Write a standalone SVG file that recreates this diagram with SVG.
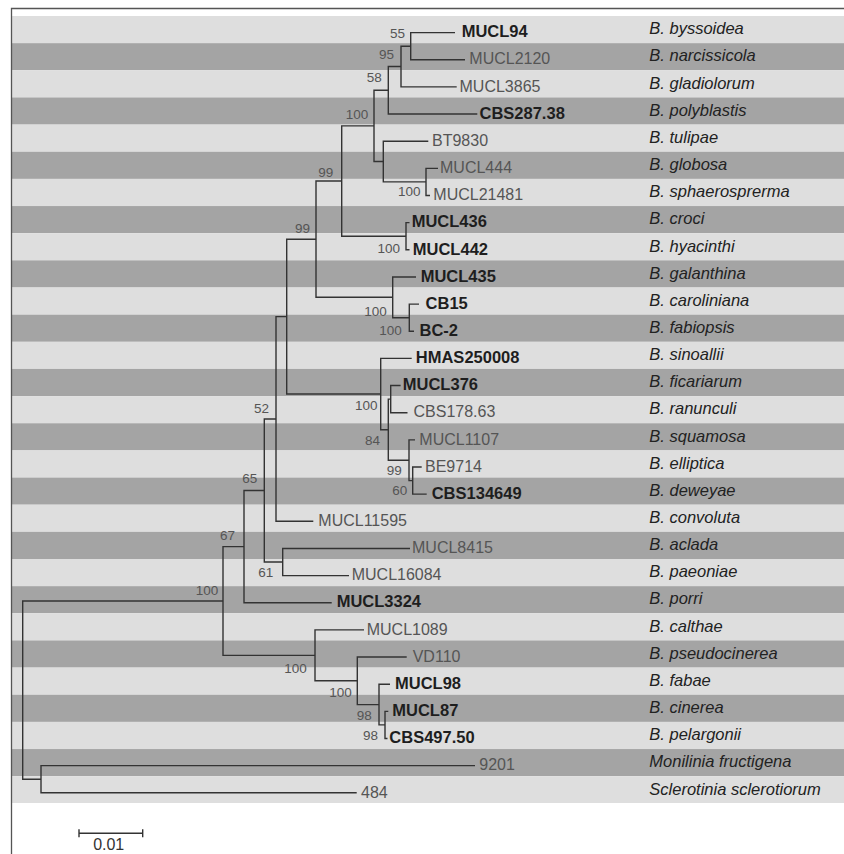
<svg xmlns="http://www.w3.org/2000/svg" width="844" height="854" viewBox="0 0 844 854">
<style>
.lt{fill:#dedede}.dk{fill:#a4a4a4}
.br{fill:none;stroke:#333;stroke-width:1.4}
.id{font-family:"Liberation Sans",Arial,sans-serif;font-size:16px;fill:#555}
.b{font-weight:bold;fill:#1e1e1e;font-size:16.5px}
.sp{font-family:"Liberation Sans",Arial,sans-serif;font-size:16.5px;font-style:italic;fill:#222}
.bs{font-family:"Liberation Sans",Arial,sans-serif;font-size:13.5px;fill:#555;text-anchor:end}
.sc{font-family:"Liberation Sans",Arial,sans-serif;font-size:16px;fill:#333;text-anchor:middle}
</style>
<rect x="0" y="0" width="844" height="854" fill="#fff"/>
<g id="bands">
<rect class="lt" x="12" y="16" width="832" height="27.15"/>
<rect class="dk" x="12" y="43.15" width="832" height="27.15"/>
<rect class="lt" x="12" y="70.3" width="832" height="27.15"/>
<rect class="dk" x="12" y="97.45" width="832" height="27.15"/>
<rect class="lt" x="12" y="124.6" width="832" height="27.15"/>
<rect class="dk" x="12" y="151.75" width="832" height="27.15"/>
<rect class="lt" x="12" y="178.9" width="832" height="27.15"/>
<rect class="dk" x="12" y="206.05" width="832" height="27.15"/>
<rect class="lt" x="12" y="233.2" width="832" height="27.15"/>
<rect class="dk" x="12" y="260.35" width="832" height="27.15"/>
<rect class="lt" x="12" y="287.5" width="832" height="27.15"/>
<rect class="dk" x="12" y="314.65" width="832" height="27.15"/>
<rect class="lt" x="12" y="341.8" width="832" height="27.15"/>
<rect class="dk" x="12" y="368.95" width="832" height="27.15"/>
<rect class="lt" x="12" y="396.1" width="832" height="27.15"/>
<rect class="dk" x="12" y="423.25" width="832" height="27.15"/>
<rect class="lt" x="12" y="450.4" width="832" height="27.15"/>
<rect class="dk" x="12" y="477.55" width="832" height="27.15"/>
<rect class="lt" x="12" y="504.7" width="832" height="27.15"/>
<rect class="dk" x="12" y="531.85" width="832" height="27.15"/>
<rect class="lt" x="12" y="559" width="832" height="27.15"/>
<rect class="dk" x="12" y="586.15" width="832" height="27.15"/>
<rect class="lt" x="12" y="613.3" width="832" height="27.15"/>
<rect class="dk" x="12" y="640.45" width="832" height="27.15"/>
<rect class="lt" x="12" y="667.6" width="832" height="27.15"/>
<rect class="dk" x="12" y="694.75" width="832" height="27.15"/>
<rect class="lt" x="12" y="721.9" width="832" height="27.15"/>
<rect class="dk" x="12" y="749.05" width="832" height="27.15"/>
<rect class="lt" x="12" y="776.2" width="832" height="26.8"/>
</g>
<g id="frame" fill="none" stroke="#555" stroke-width="1.3">
<path d="M11.5 854 V8.5 H844"/>
</g>
<g id="connectors" class="br">
<path d="M455 32.6 H410.7 V59.75 H465"/>
<path d="M410.7 46.2 H401 V86.9 H456.7"/>
<path d="M401 66.5 H388.3 V114.05 H477.3"/>
<path d="M428.3 141.2 H383.3 V181.9 H426"/>
<path d="M438 168.35 H426 V195.5 H430"/>
<path d="M388.3 90.3 H374 V161.55 H383.3"/>
<path d="M409.5 222.65 H406 V249.8 H409.5"/>
<path d="M374 125.9 H341.7 V236.2 H406"/>
<path d="M419 304.1 H409.3 V331.25 H414"/>
<path d="M416 276.95 H392.7 V317.7 H409.3"/>
<path d="M341.7 181.05 H316 V297.3 H392.7"/>
<path d="M400.6 385.55 H390.7 V412.7 H407.5"/>
<path d="M421.7 467 H412.7 V494.15 H426.7"/>
<path d="M415 439.85 H409 V480.6 H412.7"/>
<path d="M390.7 399.1 H388.3 V460.2 H409"/>
<path d="M411.7 358.4 H380.7 V429.7 H388.3"/>
<path d="M316 239.2 H286.7 V394.05 H380.7"/>
<path d="M286.7 316.6 H276 V521.3 H313.3"/>
<path d="M410 548.45 H282.7 V575.6 H349"/>
<path d="M276 418.95 H264.3 V562 H282.7"/>
<path d="M264.3 490.5 H244 V602.75 H331.7"/>
<path d="M388.3 711.35 H385 V738.5 H387.5"/>
<path d="M390 684.2 H379 V724.9 H385"/>
<path d="M406.7 657.05 H357.3 V704.6 H379"/>
<path d="M364 629.9 H315 V680.8 H357.3"/>
<path d="M244 546.6 H223 V655.4 H315"/>
<path d="M475 765.65 H41 V792.8 H356.7"/>
<path d="M223 601 H22.7 V779.2 H41"/>
</g>
<g id="leaf-MUCL94"><text class="id b" x="461.7" y="37.3">MUCL94</text><text class="sp" x="649.3" y="34.3">B. byssoidea</text></g>
<g id="leaf-MUCL2120"><text class="id" x="469.3" y="64.4">MUCL2120</text><text class="sp" x="649.3" y="61.4">B. narcissicola</text></g>
<g id="leaf-MUCL3865"><text class="id" x="459.5" y="91.6">MUCL3865</text><text class="sp" x="649.3" y="88.6">B. gladiolorum</text></g>
<g id="leaf-CBS287.38"><text class="id b" x="479.5" y="118.7">CBS287.38</text><text class="sp" x="649.3" y="115.7">B. polyblastis</text></g>
<g id="leaf-BT9830"><text class="id" x="432" y="145.9">BT9830</text><text class="sp" x="649.3" y="142.9">B. tulipae</text></g>
<g id="leaf-MUCL444"><text class="id" x="440" y="173">MUCL444</text><text class="sp" x="649.3" y="170">B. globosa</text></g>
<g id="leaf-MUCL21481"><text class="id" x="433.3" y="200.2">MUCL21481</text><text class="sp" x="649.3" y="197.2">B. sphaerosprerma</text></g>
<g id="leaf-MUCL436"><text class="id b" x="411.7" y="227.3">MUCL436</text><text class="sp" x="649.3" y="224.3">B. croci</text></g>
<g id="leaf-MUCL442"><text class="id b" x="412.8" y="254.5">MUCL442</text><text class="sp" x="649.3" y="251.5">B. hyacinthi</text></g>
<g id="leaf-MUCL435"><text class="id b" x="420.7" y="281.6">MUCL435</text><text class="sp" x="649.3" y="278.6">B. galanthina</text></g>
<g id="leaf-CB15"><text class="id b" x="425.6" y="308.8">CB15</text><text class="sp" x="649.3" y="305.8">B. caroliniana</text></g>
<g id="leaf-BC-2"><text class="id b" x="419.5" y="335.9">BC-2</text><text class="sp" x="649.3" y="332.9">B. fabiopsis</text></g>
<g id="leaf-HMAS250008"><text class="id b" x="415.8" y="363.1">HMAS250008</text><text class="sp" x="649.3" y="360.1">B. sinoallii</text></g>
<g id="leaf-MUCL376"><text class="id b" x="402.8" y="390.2">MUCL376</text><text class="sp" x="649.3" y="387.2">B. ficariarum</text></g>
<g id="leaf-CBS178.63"><text class="id" x="413.5" y="417.4">CBS178.63</text><text class="sp" x="649.3" y="414.4">B. ranunculi</text></g>
<g id="leaf-MUCL1107"><text class="id" x="419.3" y="444.5">MUCL1107</text><text class="sp" x="649.3" y="441.5">B. squamosa</text></g>
<g id="leaf-BE9714"><text class="id" x="425" y="471.7">BE9714</text><text class="sp" x="649.3" y="468.7">B. elliptica</text></g>
<g id="leaf-CBS134649"><text class="id b" x="431.7" y="498.8">CBS134649</text><text class="sp" x="649.3" y="495.8">B. deweyae</text></g>
<g id="leaf-MUCL11595"><text class="id" x="318.3" y="526">MUCL11595</text><text class="sp" x="649.3" y="523">B. convoluta</text></g>
<g id="leaf-MUCL8415"><text class="id" x="412" y="553.1">MUCL8415</text><text class="sp" x="649.3" y="550.1">B. aclada</text></g>
<g id="leaf-MUCL16084"><text class="id" x="351.7" y="580.3">MUCL16084</text><text class="sp" x="649.3" y="577.3">B. paeoniae</text></g>
<g id="leaf-MUCL3324"><text class="id b" x="336.7" y="607.4">MUCL3324</text><text class="sp" x="649.3" y="604.4">B. porri</text></g>
<g id="leaf-MUCL1089"><text class="id" x="366.7" y="634.6">MUCL1089</text><text class="sp" x="649.3" y="631.6">B. calthae</text></g>
<g id="leaf-VD110"><text class="id" x="412.7" y="661.7">VD110</text><text class="sp" x="649.3" y="658.7">B. pseudocinerea</text></g>
<g id="leaf-MUCL98"><text class="id b" x="395" y="688.9">MUCL98</text><text class="sp" x="649.3" y="685.9">B. fabae</text></g>
<g id="leaf-MUCL87"><text class="id b" x="392.3" y="716">MUCL87</text><text class="sp" x="649.3" y="713">B. cinerea</text></g>
<g id="leaf-CBS497.50"><text class="id b" x="389.3" y="743.2">CBS497.50</text><text class="sp" x="649.3" y="740.2">B. pelargonii</text></g>
<g id="leaf-9201"><text class="id" x="479.3" y="770.3">9201</text><text class="sp" x="649.3" y="767.3">Monilinia fructigena</text></g>
<g id="leaf-484"><text class="id" x="361" y="797.5">484</text><text class="sp" x="649.3" y="794.5">Sclerotinia sclerotiorum</text></g>
<g id="support">
<g id="node-A"><text class="bs" x="405" y="37.5">55</text></g>
<g id="node-B"><text class="bs" x="394" y="59">95</text></g>
<g id="node-C"><text class="bs" x="381.7" y="82">58</text></g>
<g id="node-D"><text class="bs" x="368.3" y="119">100</text></g>
<g id="node-F"><text class="bs" x="420.5" y="195.5">100</text></g>
<g id="node-G"><text class="bs" x="333.3" y="176.7">99</text></g>
<g id="node-H"><text class="bs" x="400" y="252.5">100</text></g>
<g id="node-I"><text class="bs" x="310" y="233.3">99</text></g>
<g id="node-J"><text class="bs" x="386.7" y="316">100</text></g>
<g id="node-K"><text class="bs" x="401.7" y="335">100</text></g>
<g id="node-O"><text class="bs" x="377.5" y="410">100</text></g>
<g id="node-N"><text class="bs" x="380" y="445">84</text></g>
<g id="node-P"><text class="bs" x="401.7" y="475">99</text></g>
<g id="node-Q"><text class="bs" x="407.3" y="495">60</text></g>
<g id="node-R"><text class="bs" x="269" y="413">52</text></g>
<g id="node-S"><text class="bs" x="257.3" y="483">65</text></g>
<g id="node-T"><text class="bs" x="273.3" y="577">61</text></g>
<g id="node-U"><text class="bs" x="235" y="540">67</text></g>
<g id="node-V"><text class="bs" x="218.3" y="595">100</text></g>
<g id="node-W"><text class="bs" x="306.7" y="672.7">100</text></g>
<g id="node-X"><text class="bs" x="351.7" y="697">100</text></g>
<g id="node-Y"><text class="bs" x="371.7" y="720">98</text></g>
<g id="node-Z"><text class="bs" x="378" y="740">98</text></g>
</g>
<g id="scale-bar">
<path d="M79 833.3 H142.7 M79 829.3 V837.3 M142.7 829.3 V837.3" fill="none" stroke="#333" stroke-width="1.4"/>
<text class="sc" x="108.7" y="850">0.01</text>
</g>
</svg>
